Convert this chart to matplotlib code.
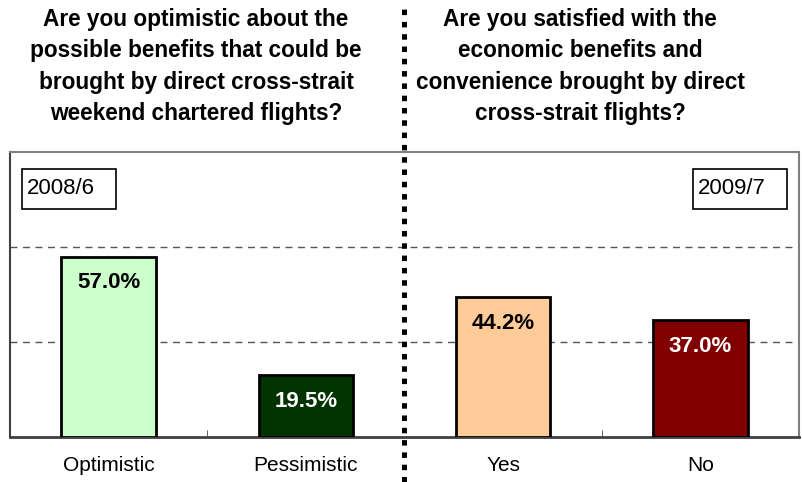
import matplotlib.pyplot as plt
from matplotlib.lines import Line2D
from matplotlib.patches import Rectangle

plt.rcParams['font.family'] = ['Liberation Sans', 'DejaVu Sans']

categories = ['Optimistic', 'Pessimistic', 'Yes', 'No']
values = [57.0, 19.5, 44.2, 37.0]
bar_colors = ['#CCFFCC', '#003300', '#FFCC99', '#800000']
label_colors = ['black', 'white', 'black', 'white']
left_title = ('Are you optimistic about the\npossible benefits that could be\n'
              'brought by direct cross-strait\nweekend chartered flights?')
right_title = ('Are you satisfied with the\neconomic benefits and\n'
               'convenience brought by direct\ncross-strait flights?')
dates = ['2008/6', '2009/7']

W, H = 803, 482
fig = plt.figure(figsize=(W / 100, H / 100), dpi=100)
ax = fig.add_axes([10 / W, (H - 437) / H, 789 / W, 285 / H])

x = list(range(len(categories)))
ax.bar(x, values, width=0.48, color=bar_colors, edgecolor='black', linewidth=2, zorder=3)
for xi, v, c in zip(x, values, label_colors):
    ax.annotate(f'{v:.1f}%', (xi, v), xytext=(0, -19), textcoords='offset points',
                ha='center', va='center', fontsize=16, fontweight='bold', color=c, zorder=4)

ax.set_xlim(-0.5, len(categories) - 0.5)
ax.set_ylim(0, 90)
ax.set_yticks([30, 60])
ax.yaxis.grid(True, linestyle=(0, (5, 4)), color='#555555', linewidth=1)
ax.set_axisbelow(True)
ax.tick_params(axis='y', left=False, labelleft=False)
ax.set_xticks(x)
ax.set_xticklabels(categories, fontsize=15)
ax.tick_params(axis='x', length=0, pad=14)
ax.set_xticks([0.5, 2.5], minor=True)
ax.tick_params(axis='x', which='minor', direction='in', length=5, color='#444444')

for side in ['top', 'right']:
    ax.spines[side].set_color('#808080')
    ax.spines[side].set_linewidth(1.5)
ax.spines['left'].set_color('#404040')
ax.spines['left'].set_linewidth(1.5)
ax.spines['bottom'].set_color('#404040')
ax.spines['bottom'].set_linewidth(2)

# date boxes (pixel-sized frames, text left aligned inside)
for bx, label in [(22, dates[0]), (693, dates[1])]:
    fig.add_artist(Rectangle((bx / W, 1 - 209 / H), 94 / W, 40 / H, transform=fig.transFigure,
                             facecolor='white', edgecolor='black', linewidth=1.2, zorder=5))
    fig.text((bx + 5) / W, 1 - 189 / H, label, ha='left', va='center', fontsize=16, zorder=6)

fig.text(196 / W, 1 - 8 / H, left_title, ha='center', va='top', fontsize=16.3,
         fontweight='bold', linespacing=1.47)
fig.text(580 / W, 1 - 8 / H, right_title, ha='center', va='top', fontsize=16.3,
         fontweight='bold', linespacing=1.47)

fig.add_artist(Line2D([404 / W, 404 / W], [0, 1 - 5 / H], transform=fig.transFigure,
                      color='black', linewidth=3.6, linestyle=(0, (1.1, 1.36)),
                      solid_capstyle='butt', dash_capstyle='butt', zorder=10))

fig.savefig('out.png', dpi=100)
